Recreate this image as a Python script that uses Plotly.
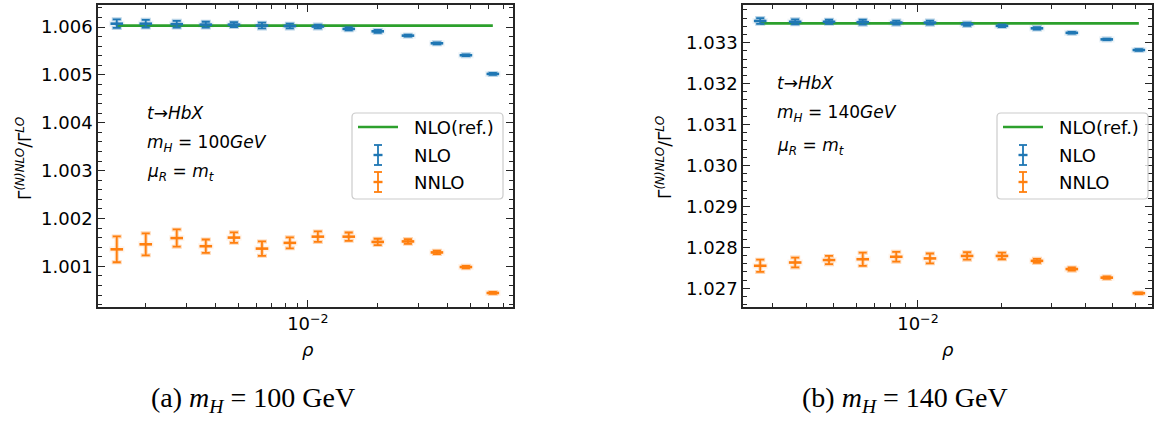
import plotly.graph_objects as go
import math

# ---------------- data ----------------
rho_a = [0.0015, 0.0020, 0.00272, 0.00363, 0.0048, 0.00634, 0.00836,
         0.01104, 0.0150, 0.0200, 0.0270, 0.0360, 0.0480, 0.0627]
nlo_a = [1.00607, 1.00607, 1.00606, 1.00605, 1.00605, 1.00603, 1.00602,
         1.00601, 1.00596, 1.00591, 1.00582, 1.00566, 1.00541, 1.00502]
nlo_a_err = [0.00009, 0.00008, 0.00007, 0.00006, 0.00005, 0.00006, 0.00005,
             0.00004, 0.00003, 0.00003, 0.00002, 0.00002, 0.00002, 0.00002]
nnlo_a = [1.001355, 1.00146, 1.00159, 1.00142, 1.00160, 1.00137, 1.00149,
          1.00162, 1.00162, 1.00151, 1.00152, 1.00129, 1.000985, 1.000443]
nnlo_a_err = [0.00027, 0.00023, 0.00018, 0.00014, 0.00011, 0.00015, 0.000115,
              0.00011, 0.000087, 0.000066, 0.00005, 0.000035, 0.000025, 0.00002]
ref_a = 1.00603

rho_b = [0.00272, 0.00363, 0.0048, 0.00634, 0.00836, 0.01104, 0.0150,
         0.0200, 0.0267, 0.0356, 0.0475, 0.0619]
nlo_b = [1.03353, 1.03351, 1.03351, 1.03350, 1.03349, 1.03349, 1.03345,
         1.03341, 1.03335, 1.03324, 1.03308, 1.03282]
nlo_b_err = [0.00007, 0.00006, 0.00005, 0.00006, 0.00005, 0.00005, 0.00004,
             0.00003, 0.00003, 0.00002, 0.00002, 0.00002]
nnlo_b = [1.02755, 1.02763, 1.02769, 1.02771, 1.02777, 1.02773, 1.02779,
          1.02779, 1.02767, 1.02747, 1.02726, 1.02688]
nnlo_b_err = [0.00015, 0.00012, 0.00010, 0.00016, 0.00012, 0.00012, 0.00009,
              0.00008, 0.00005, 0.00004, 0.00003, 0.00002]
ref_b = 1.03347

yticks_a = [1.001, 1.002, 1.003, 1.004, 1.005, 1.006]
yticks_b = [1.027, 1.028, 1.029, 1.030, 1.031, 1.032, 1.033]
xminor = [0.002, 0.003, 0.004, 0.005, 0.006, 0.007, 0.008, 0.009,
          0.02, 0.03, 0.04, 0.05, 0.06, 0.07]

# ---------------- style ----------------
W, H = 1159, 421
BLUE, ORANGE, GREEN = "#1f77b4", "#ff7f0e", "#2ca02c"
FONT = "DejaVu Sans"
AX = "#262626"


def px(x):
    return x / W


def py(y):
    return 1 - y / H


fig = go.Figure()


def add_panel(xa, ya, rho, nlo, nlo_err, nnlo, nnlo_err, ref):
    fig.add_trace(go.Scatter(x=[rho[0], rho[-1]], y=[ref, ref], mode="lines",
                             line=dict(color=GREEN, width=2.6), xaxis=xa, yaxis=ya,
                             showlegend=False))
    for yv, ev, col in ((nlo, nlo_err, BLUE), (nnlo, nnlo_err, ORANGE)):
        # faint halo
        fig.add_trace(go.Scatter(x=rho, y=yv, mode="markers", xaxis=xa, yaxis=ya,
                                 marker=dict(symbol="line-ew", size=11, color=col,
                                             line=dict(color=col, width=6), opacity=0.25),
                                 error_y=dict(type="data", array=ev, color=col,
                                              thickness=4, width=5),
                                 opacity=0.3, showlegend=False, hoverinfo="skip"))
        fig.add_trace(go.Scatter(x=rho, y=yv, mode="markers", xaxis=xa, yaxis=ya,
                                 marker=dict(symbol="line-ew", size=9, color=col,
                                             line=dict(color=col, width=2.6)),
                                 error_y=dict(type="data", array=ev, color=col,
                                              thickness=1.8, width=4),
                                 showlegend=False))


add_panel("x", "y", rho_a, nlo_a, nlo_a_err, nnlo_a, nnlo_a_err, ref_a)
add_panel("x2", "y2", rho_b, nlo_b, nlo_b_err, nnlo_b, nnlo_b_err, ref_b)

ydom = [py(307), py(5)]


def xaxis(dom, rng, anchor):
    return dict(type="log", domain=dom, range=rng, anchor=anchor, tickvals=[0.01],
                ticktext=["10<sup>−2</sup>"], ticks="inside", ticklen=7, tickwidth=1.3,
                tickcolor=AX, showline=True, linecolor=AX, linewidth=1.6,
                mirror="allticks", showgrid=False, zeroline=False,
                tickfont=dict(family=FONT, size=18, color="black"),
                minor=dict(tickvals=xminor, ticks="inside", ticklen=4, tickcolor=AX,
                           tickwidth=1.1, showgrid=False))


def yaxis(anchor, rng, tv):
    return dict(domain=ydom, range=rng, tickvals=tv, ticktext=[f"{v:.3f}" for v in tv],
                anchor=anchor, ticks="inside", ticklen=7, tickwidth=1.3, tickcolor=AX,
                showline=True, linecolor=AX, linewidth=1.6, mirror="allticks",
                showgrid=False, zeroline=False,
                tickfont=dict(family=FONT, size=18, color="black"),
                minor=dict(dtick=0.0002, ticks="inside", ticklen=4, tickcolor=AX,
                           tickwidth=1.1, showgrid=False))


fig.update_layout(
    width=W, height=H, margin=dict(l=0, r=0, t=0, b=0),
    paper_bgcolor="white", plot_bgcolor="white", showlegend=False,
    xaxis=xaxis([px(98), px(513)], [math.log10(1.245e-3), math.log10(0.0766)], "y"),
    yaxis=yaxis("x", [1.00015, 1.00646], yticks_a),
    xaxis2=xaxis([px(743), px(1152)], [math.log10(2.36e-3), math.log10(0.069)], "y2"),
    yaxis2=yaxis("x2", [1.026543, 1.03392], yticks_b),
)

ann = []
shapes = []


def text(x, y, s, size=17, anchor="left", family=FONT, angle=0):
    ann.append(dict(x=px(x), y=py(y), xref="paper", yref="paper", text=s,
                    showarrow=False, xanchor=anchor, yanchor="middle", textangle=angle,
                    font=dict(family=family, size=size, color="black")))


# in-plot labels
for x0, ys, mh in ((145, (113, 143, 172), "100"), (775, (83, 113, 146), "140")):
    text(x0, ys[0], "<i>t</i>→<i>HbX</i>")
    text(x0, ys[1], f"<i>m</i><sub><i>H</i></sub> = {mh}<i>GeV</i>")
    text(x0, ys[2], "<i>μ</i><sub><i>R</i></sub> = <i>m</i><sub><i>t</i></sub>")

# axis titles
ytitle = "Γ<sup><i>(N)NLO</i></sup>/Γ<sup><i>LO</i></sup>"
text(24, 158, ytitle, size=17, anchor="center", angle=-90)
text(664, 158, ytitle, size=17, anchor="center", angle=-90)
text(308, 349, "<i>ρ</i>", size=18, anchor="center")
text(948, 349, "<i>ρ</i>", size=18, anchor="center")

# captions
text(253, 399, "(a) <i>m<sub>H</sub></i> = 100 GeV", size=28, anchor="center",
     family="Liberation Serif")
text(905, 399, "(b) <i>m<sub>H</sub></i> = 140 GeV", size=28, anchor="center",
     family="Liberation Serif")


def rounded_box(x0, y0, x1, y1, r=4):
    rx, ry = r / W, r / H
    X0, X1 = px(x0), px(x1)
    Y0, Y1 = py(y1), py(y0)  # bottom, top in paper
    p = (f"M {X0+rx},{Y0} L {X1-rx},{Y0} Q {X1},{Y0} {X1},{Y0+ry} "
         f"L {X1},{Y1-ry} Q {X1},{Y1} {X1-rx},{Y1} L {X0+rx},{Y1} "
         f"Q {X0},{Y1} {X0},{Y1-ry} L {X0},{Y0+ry} Q {X0},{Y0} {X0+rx},{Y0} Z")
    shapes.append(dict(type="path", path=p, xref="paper", yref="paper",
                       line=dict(color="#cccccc", width=1.2), fillcolor="rgba(255,255,255,0.8)"))


def line(x0, y0, x1, y1, col, w):
    shapes.append(dict(type="line", x0=px(x0), y0=py(y0), x1=px(x1), y1=py(y1),
                       xref="paper", yref="paper", line=dict(color=col, width=w)))


def errglyph(x, y, col):
    line(x, y - 10, x, y + 10, col, 1.8)
    line(x - 4, y - 10, x + 4, y - 10, col, 1.8)
    line(x - 4, y + 10, x + 4, y + 10, col, 1.8)
    line(x - 4.5, y, x + 4.5, y, col, 2.4)


for bx0, bx1 in ((352, 503), (997, 1148)):
    rounded_box(bx0, 113, bx1, 199)
    line(bx0 + 6, 127, bx0 + 46, 127, GREEN, 2.6)
    errglyph(bx0 + 26, 155, BLUE)
    errglyph(bx0 + 26, 182, ORANGE)
    text(bx0 + 60, 127, "NLO(ref.)", size=18)
    text(bx0 + 60, 155, "NLO", size=18)
    text(bx0 + 60, 182, "NNLO", size=18)

fig.update_layout(annotations=ann, shapes=shapes)
fig.write_html("out.html", config={"displayModeBar": False},
               post_script="document.body.style.margin='0px';")
